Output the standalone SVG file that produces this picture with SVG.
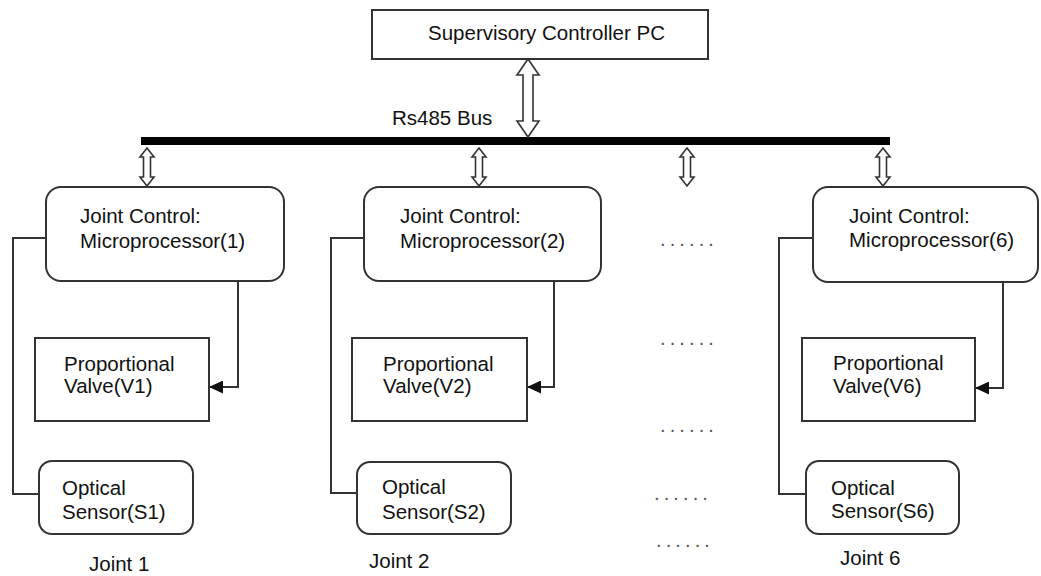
<svg xmlns="http://www.w3.org/2000/svg" width="1041" height="576" viewBox="0 0 1041 576">
<defs>
<style>
.box{fill:#fff;stroke:#333;stroke-width:2}
.ln{fill:none;stroke:#333;stroke-width:2}
.dbl{fill:#fff;stroke:#333;stroke-width:1.6;stroke-linejoin:miter}
text{font-family:"Liberation Sans",Arial,sans-serif;font-size:20.5px;fill:#111}
.dots{font-size:20px;letter-spacing:4.1px;fill:#555}
</style>
<marker id="ah" markerWidth="14" markerHeight="13" refX="14" refY="6.5" orient="auto" markerUnits="userSpaceOnUse">
<path d="M0,0 L14,6.5 L0,13 Z" fill="#111"/>
</marker>
</defs>
<rect width="1041" height="576" fill="#fff"/>

<g id="supervisory">
<rect class="box" x="372" y="10" width="336" height="49"/>
<text x="428" y="40">Supervisory Controller PC</text>
</g>

<g id="bus">
<rect x="141" y="137" width="749" height="8" fill="#000"/>
<text x="392" y="125">Rs485 Bus</text>
</g>

<g id="connectors">
<path class="dbl" d="M528,59 L539,75 L533,75 L533,121 L539,121 L528,137 L517,121 L523,121 L523,75 L517,75 Z"/>
<path class="dbl" d="M147,148 L154,157 L150.5,157 L150.5,177 L154,177 L147,186 L140,177 L143.5,177 L143.5,157 L140,157 Z"/>
<path class="dbl" d="M479,148 L486,157 L482.5,157 L482.5,177 L486,177 L479,186 L472,177 L475.5,177 L475.5,157 L472,157 Z"/>
<path class="dbl" d="M687,148 L694,157 L690.5,157 L690.5,177 L694,177 L687,186 L680,177 L683.5,177 L683.5,157 L680,157 Z"/>
<path class="dbl" d="M883,148 L890,157 L886.5,157 L886.5,177 L890,177 L883,186 L876,177 L879.5,177 L879.5,157 L876,157 Z"/>
<path class="ln" d="M46,238 H13 V494 H39"/>
<path class="ln" d="M238,281 V387 H209" marker-end="url(#ah)"/>
<path class="ln" d="M364,238 H331 V493 H357"/>
<path class="ln" d="M554,281 V387 H527" marker-end="url(#ah)"/>
<path class="ln" d="M813,238 H779 V494 H806"/>
<path class="ln" d="M1003,282 V388 H975" marker-end="url(#ah)"/>
</g>

<g id="micro1">
<rect class="box" x="46" y="187" width="238" height="94" rx="15"/>
<text x="80" y="223">Joint Control:</text>
<text x="80" y="248">Microprocessor(1)</text>
</g>
<g id="valve1">
<rect class="box" x="35" y="338" width="174" height="83"/>
<text x="64" y="371">Proportional</text>
<text x="64" y="393">Valve(V1)</text>
</g>
<g id="sensor1">
<rect class="box" x="39" y="461" width="154" height="73" rx="13"/>
<text x="62" y="495">Optical</text>
<text x="62" y="519">Sensor(S1)</text>
</g>
<text id="joint1" x="89" y="571">Joint 1</text>

<g id="micro2">
<rect class="box" x="364" y="187" width="237" height="94" rx="15"/>
<text x="400" y="223">Joint Control:</text>
<text x="400" y="248">Microprocessor(2)</text>
</g>
<g id="valve2">
<rect class="box" x="352" y="338" width="175" height="83"/>
<text x="383" y="371">Proportional</text>
<text x="383" y="393">Valve(V2)</text>
</g>
<g id="sensor2">
<rect class="box" x="357" y="462" width="154" height="72" rx="13"/>
<text x="382" y="494">Optical</text>
<text x="382" y="519">Sensor(S2)</text>
</g>
<text id="joint2" x="369" y="568">Joint 2</text>

<g id="micro6">
<rect class="box" x="813" y="187" width="225" height="95" rx="15"/>
<text x="849" y="223">Joint Control:</text>
<text x="849" y="247">Microprocessor(6)</text>
</g>
<g id="valve6">
<rect class="box" x="802" y="338" width="173" height="83"/>
<text x="833" y="370">Proportional</text>
<text x="833" y="393">Valve(V6)</text>
</g>
<g id="sensor6">
<rect class="box" x="806" y="461" width="153" height="73" rx="13"/>
<text x="831" y="495">Optical</text>
<text x="831" y="518">Sensor(S6)</text>
</g>
<text id="joint6" x="840" y="565">Joint 6</text>

<g id="ellipses">
<text class="dots" x="660" y="246">......</text>
<text class="dots" x="660" y="345">......</text>
<text class="dots" x="660" y="432">......</text>
<text class="dots" x="654" y="500">......</text>
<text class="dots" x="656" y="547">......</text>
</g>
</svg>
